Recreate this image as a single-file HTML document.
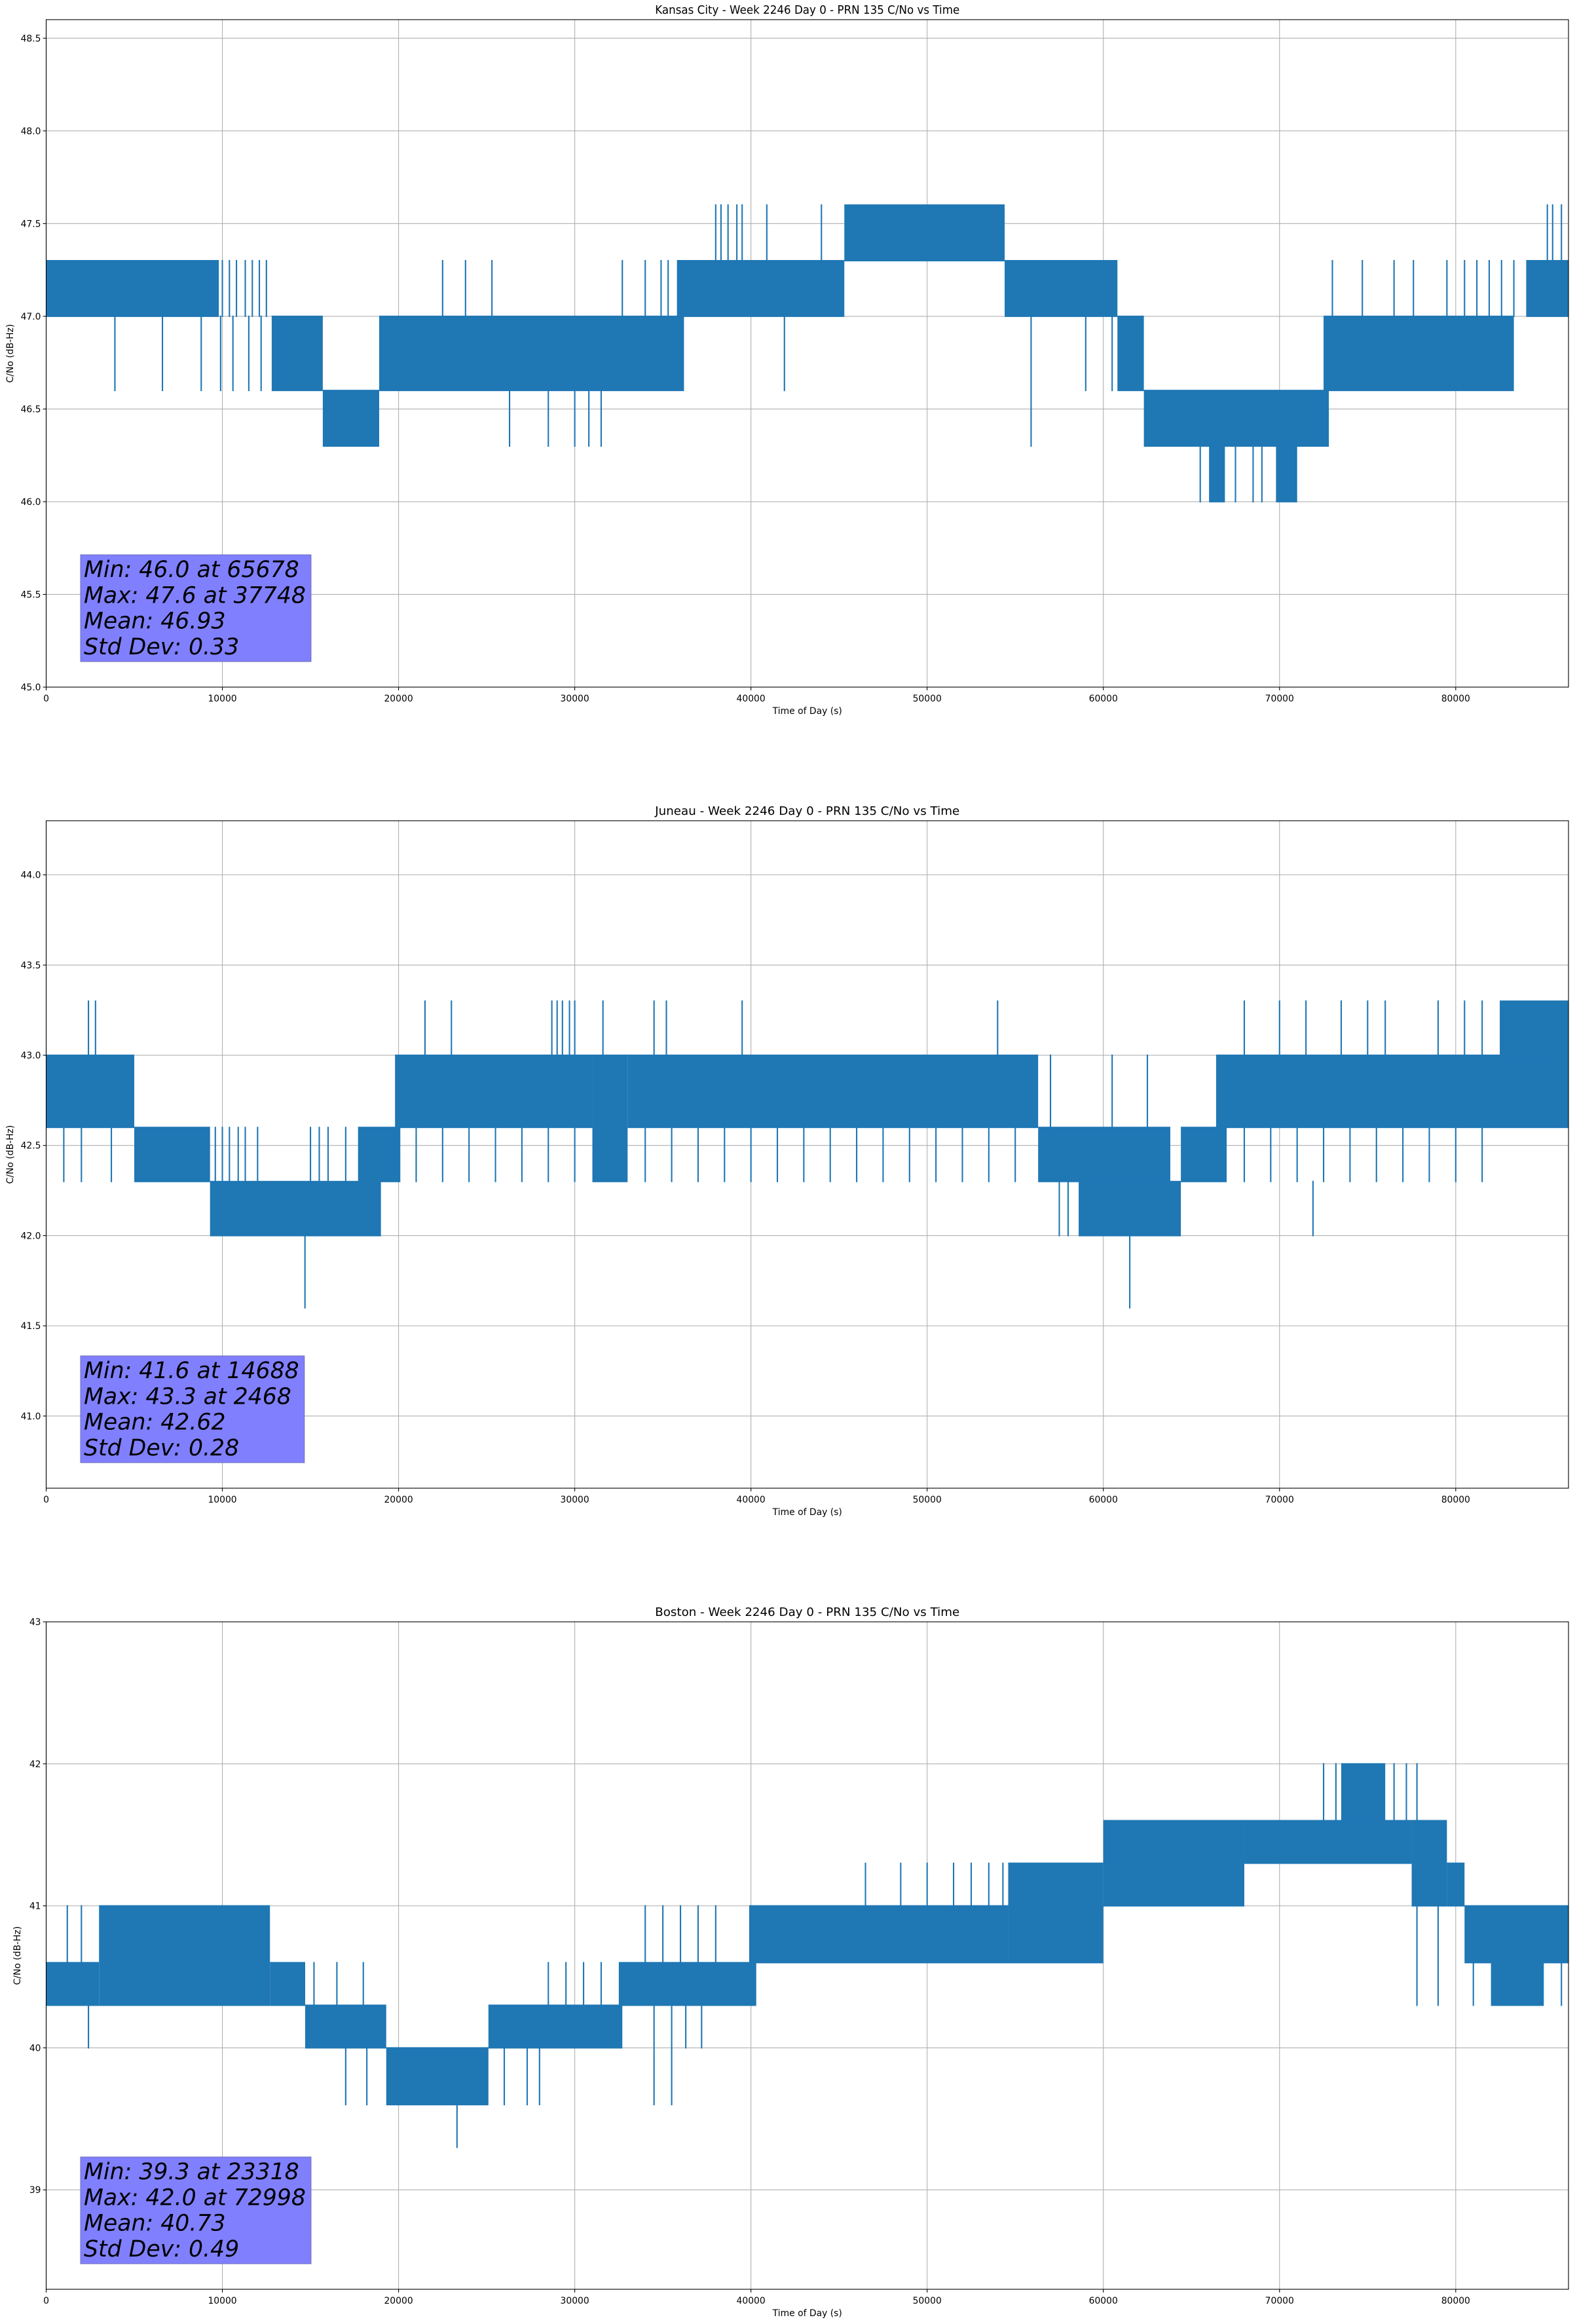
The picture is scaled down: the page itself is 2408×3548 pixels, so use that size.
<!DOCTYPE html>
<html><head><meta charset="utf-8"><title>PRN 135 C/No vs Time</title>
<style>
html,body{margin:0;padding:0;background:#fff;}
svg{display:block;font-family:"DejaVu Sans","Liberation Sans",sans-serif;}
</style></head>
<body>
<svg id="fig" width="2408" height="3548" viewBox="0 0 2408 3548" xmlns="http://www.w3.org/2000/svg">
<rect x="0" y="0" width="2408" height="3548" fill="#fff"/>
</svg>
<script>
// ---- Kansas City data ----
const kcTitle = "Kansas City - Week 2246 Day 0 - PRN 135 C/No vs Time";
const kcYTicks = [45.0, 45.5, 46.0, 46.5, 47.0, 47.5, 48.0, 48.5];
const kcYRange = [45.0, 48.6];
const kcBands = [
 [0,9800,47.0,47.3],[12800,15700,46.6,47.0],[15700,18900,46.3,46.6],[18900,36200,46.6,47.0],
 [35800,45300,47.0,47.3],[45300,54400,47.3,47.6],[54400,60800,47.0,47.3],[60800,62300,46.6,47.0],
 [62300,72800,46.3,46.6],[66000,66900,46.0,46.3],[69800,71000,46.0,46.3],[72500,83300,46.6,47.0],[84000,86400,47.0,47.3]
];
const kcSpikes = [
 [10000,47.0,47.3],[10400,47.0,47.3],[10800,47.0,47.3],[11300,47.0,47.3],[11700,47.0,47.3],[12100,47.0,47.3],[12500,47.0,47.3],
 [9900,46.6,47.0],[10600,46.6,47.0],[11500,46.6,47.0],[12200,46.6,47.0],
 [3900,46.6,47.0],[6600,46.6,47.0],[8800,46.6,47.0],
 [26300,46.3,46.6],[28500,46.3,46.6],[30000,46.3,46.6],[30800,46.3,46.6],[31500,46.3,46.6],
 [22500,47.0,47.3],[23800,47.0,47.3],[25300,47.0,47.3],[32700,47.0,47.3],[34000,47.0,47.3],[34900,47.0,47.3],[35300,47.0,47.3],
 [38000,47.3,47.6],[38300,47.3,47.6],[38700,47.3,47.6],[39200,47.3,47.6],[39500,47.3,47.6],[40900,47.3,47.6],[44000,47.3,47.6],
 [41900,46.6,47.0],[55900,46.3,47.0],[59000,46.6,47.0],[60500,46.6,47.0],
 [65500,46.0,46.3],[67500,46.0,46.3],[68500,46.0,46.3],[69000,46.0,46.3],
 [73000,47.0,47.3],[74700,47.0,47.3],[76500,47.0,47.3],[77600,47.0,47.3],[79500,47.0,47.3],[80500,47.0,47.3],
 [81200,47.0,47.3],[81900,47.0,47.3],[82600,47.0,47.3],[83300,47.0,47.3],
 [85200,47.3,47.6],[85500,47.3,47.6],[86000,47.3,47.6]
];
const kcStats = ["Min: 46.0 at 65678","Max: 47.6 at 37748","Mean: 46.93","Std Dev: 0.33"];

// ---- Juneau data ----
const junTitle = "Juneau - Week 2246 Day 0 - PRN 135 C/No vs Time";
const junYTicks = [41.0, 41.5, 42.0, 42.5, 43.0, 43.5, 44.0];
const junYRange = [40.6, 44.3];
const junBands = [
 [0,5000,42.6,43.0],[5000,9300,42.3,42.6],[9300,19000,42.0,42.3],[17700,20100,42.3,42.6],
 [19800,31000,42.6,43.0],[31000,33000,42.3,43.0],[33000,56300,42.6,43.0],[56300,63800,42.3,42.6],
 [58600,64400,42.0,42.3],[64400,67000,42.3,42.6],[66400,86400,42.6,43.0],[82500,86400,43.0,43.3]
];
const junSpikes = [
 [2400,43.0,43.3],[2800,43.0,43.3],[21500,43.0,43.3],[23000,43.0,43.3],[28700,43.0,43.3],[29000,43.0,43.3],[29300,43.0,43.3],
 [29700,43.0,43.3],[30000,43.0,43.3],[31600,43.0,43.3],[34500,43.0,43.3],[35200,43.0,43.3],[39500,43.0,43.3],[54000,43.0,43.3],
 [68000,43.0,43.3],[70000,43.0,43.3],[71500,43.0,43.3],[73500,43.0,43.3],[75000,43.0,43.3],[76000,43.0,43.3],[79000,43.0,43.3],
 [80500,43.0,43.3],[81500,43.0,43.3],
 [1000,42.3,42.6],[2000,42.3,42.6],[3700,42.3,42.6],[14688,41.6,42.0],
 [21000,42.3,42.6],[22500,42.3,42.6],[24000,42.3,42.6],[25500,42.3,42.6],[27000,42.3,42.6],[28500,42.3,42.6],[30000,42.3,42.6],
 [34000,42.3,42.6],[35500,42.3,42.6],[37000,42.3,42.6],[38500,42.3,42.6],[40000,42.3,42.6],[41500,42.3,42.6],[43000,42.3,42.6],
 [44500,42.3,42.6],[46000,42.3,42.6],[47500,42.3,42.6],[49000,42.3,42.6],[50500,42.3,42.6],[52000,42.3,42.6],[53500,42.3,42.6],[55000,42.3,42.6],
 [68000,42.3,42.6],[69500,42.3,42.6],[71000,42.3,42.6],[72500,42.3,42.6],[74000,42.3,42.6],[75500,42.3,42.6],[77000,42.3,42.6],
 [78500,42.3,42.6],[80000,42.3,42.6],[81500,42.3,42.6],
 [57500,42.0,42.3],[58000,42.0,42.3],[71900,42.0,42.3],[61500,41.6,42.0],
 [57000,42.6,43.0],[60500,42.6,43.0],[62500,42.6,43.0],
 [9600,42.3,42.6],[10000,42.3,42.6],[10400,42.3,42.6],[10900,42.3,42.6],[11300,42.3,42.6],[12000,42.3,42.6],
 [15000,42.3,42.6],[15500,42.3,42.6],[16000,42.3,42.6],[17000,42.3,42.6]
];
const junStats = ["Min: 41.6 at 14688","Max: 43.3 at 2468","Mean: 42.62","Std Dev: 0.28"];

// ---- Boston data ----
const bosTitle = "Boston - Week 2246 Day 0 - PRN 135 C/No vs Time";
const bosYTicks = [39, 40, 41, 42, 43];
const bosYRange = [38.3, 43.0];
const bosBands = [
 [0,3000,40.3,40.6],[3000,12700,40.3,41.0],[12700,14700,40.3,40.6],[14700,19300,40.0,40.3],
 [19300,25100,39.6,40.0],[25100,32700,40.0,40.3],[32500,40300,40.3,40.6],[39900,54600,40.6,41.0],
 [54600,60000,40.6,41.3],[60000,68000,41.0,41.6],[68000,77500,41.3,41.6],[73500,76000,41.6,42.0],
 [77500,79500,41.0,41.6],[79500,80500,41.0,41.3],[80500,86400,40.6,41.0],[82000,85000,40.3,40.6]
];
const bosSpikes = [
 [23318,39.3,39.6],[2400,40.0,40.3],[1200,40.6,41.0],[2000,40.6,41.0],
 [46500,41.0,41.3],[48500,41.0,41.3],[50000,41.0,41.3],[51500,41.0,41.3],[52500,41.0,41.3],[53500,41.0,41.3],[54300,41.0,41.3],
 [72500,41.6,42.0],[73200,41.6,42.0],[76500,41.6,42.0],[77200,41.6,42.0],[77800,41.6,42.0],
 [17000,39.6,40.0],[18200,39.6,40.0],[26000,39.6,40.0],[27300,39.6,40.0],[28000,39.6,40.0],[34500,39.6,40.3],[35500,39.6,40.3],
 [28500,40.3,40.6],[29500,40.3,40.6],[30500,40.3,40.6],[31500,40.3,40.6],
 [34000,40.6,41.0],[35000,40.6,41.0],[36000,40.6,41.0],[37000,40.6,41.0],[38000,40.6,41.0],
 [36300,40.0,40.3],[37200,40.0,40.3],[77800,40.3,41.0],[79000,40.3,41.0],[81000,40.3,40.6],[86000,40.3,40.6],
 [15200,40.3,40.6],[16500,40.3,40.6],[18000,40.3,40.6]
];
const bosStats = ["Min: 39.3 at 23318","Max: 42.0 at 72998","Mean: 40.73","Std Dev: 0.49"];

const xTicks = [0, 10000, 20000, 30000, 40000, 50000, 60000, 70000, 80000];
const xRange = [0, 86400];

const NS = "http://www.w3.org/2000/svg";
const svg = document.getElementById('fig');
const L = 70.5, R = 2395, H = 1019;
const BLUE = "#1f77b4";

function mk(tag, attrs, parent) {
  const e = document.createElementNS(NS, tag);
  for (const k in attrs) e.setAttribute(k, attrs[k]);
  parent.appendChild(e);
  return e;
}

function panel(top, title, yTicks, yRange, bands, spikes, stats, key, yFmt) {
  const bottom = top + H;
  const g = mk('g', {}, svg);
  
  
  const xs = v => L + (v - xRange[0]) / (xRange[1] - xRange[0]) * (R - L);
  const ys = v => bottom - (v - yRange[0]) / (yRange[1] - yRange[0]) * H;

  // grid
  const grid = mk('g', {stroke: '#b0b0b0', 'stroke-width': 1.1}, g);
  
  
  xTicks.forEach(t => { const x = xs(t); mk('line', {x1: x, x2: x, y1: top, y2: bottom}, grid); });
  yTicks.forEach(t => { const y = ys(t); mk('line', {x1: L, x2: R, y1: y, y2: y}, grid); });

  // series
  const ser = mk('g', {fill: BLUE, stroke: BLUE}, g);
  
  
  bands.forEach(b => {
    const x0 = xs(b[0]), x1 = xs(b[1]), y0 = ys(b[3]), y1 = ys(b[2]);
    const r = mk('rect', {x: x0, y: y0 - 1, width: Math.max(1, x1 - x0), height: (y1 - y0) + 2, stroke: 'none'}, ser);
    
    
  });
  spikes.forEach(s => {
    const x = xs(s[0]);
    const l = mk('line', {x1: x, x2: x, y1: ys(s[1]) + 1, y2: ys(s[2]) - 1, 'stroke-width': 2.1}, ser);
    
    
  });

  // spines
  const sp = mk('rect', {x: L, y: top, width: R - L, height: H, fill: 'none', stroke: '#000', 'stroke-width': 1.1}, g);
  
  

  // ticks
  const tg = mk('g', {'font-size': '13.9px', fill: '#000'}, g);
  
  
  xTicks.forEach(t => {
    const x = xs(t);
    mk('line', {x1: x, x2: x, y1: bottom, y2: bottom + 4.9, stroke: '#000', 'stroke-width': 1.1}, tg);
    const tx = mk('text', {x: x, y: bottom + 22, 'text-anchor': 'middle'}, tg);
    tx.textContent = String(t);
    
    
  });
  yTicks.forEach(t => {
    const y = ys(t);
    mk('line', {x1: L - 4.9, x2: L, y1: y, y2: y, stroke: '#000', 'stroke-width': 1.1}, tg);
    const tx = mk('text', {x: L - 8, y: y + 5, 'text-anchor': 'end'}, tg);
    tx.textContent = yFmt(t);
    
    
  });

  // title & labels
  const tt = mk('text', {x: (L + R) / 2, y: top - 9, 'text-anchor': 'middle', 'font-size': '17.5px', textLength: 465, lengthAdjust: 'spacingAndGlyphs'}, g);
  tt.textContent = title;
  
  
  const xl = mk('text', {x: (L + R) / 2, y: bottom + 41, 'text-anchor': 'middle', 'font-size': '13.9px'}, g);
  xl.textContent = "Time of Day (s)";
  
  
  const yx = yFmt(yTicks[0]).length > 2 ? 20 : 31;
  const yl = mk('text', {x: 0, y: 0, 'text-anchor': 'middle', 'font-size': '13.9px', transform: `translate(${yx},${top + H / 2}) rotate(-90)`}, g);
  yl.textContent = "C/No (dB-Hz)";
  
  

  // stats box
  const bg = mk('g', {}, g);
  
  
  const boxTop = bottom - 202, boxBot = bottom - 39;
  const box = mk('rect', {x: 123, y: boxTop, width: 350, height: boxBot - boxTop, fill: '#8080ff', stroke: '#6c6cb8', 'stroke-width': 1}, bg);
  let maxW = 0;
  stats.forEach((s, i) => {
    const t = mk('text', {x: 128, y: bottom - 168 + i * 39.3, 'font-size': '34.7px', 'font-style': 'italic', fill: '#000'}, bg);
    t.textContent = s;
    
    
    try { maxW = Math.max(maxW, t.getComputedTextLength()); } catch (e) {}
  });
  if (maxW > 0) box.setAttribute('width', maxW + 13);
}

panel(30, kcTitle, kcYTicks, kcYRange, kcBands, kcSpikes, kcStats, 'kansas-city', v => v.toFixed(1));
panel(1253, junTitle, junYTicks, junYRange, junBands, junSpikes, junStats, 'juneau', v => v.toFixed(1));
panel(2476, bosTitle, bosYTicks, bosYRange, bosBands, bosSpikes, bosStats, 'boston', v => String(v));
</script>
</body></html>
